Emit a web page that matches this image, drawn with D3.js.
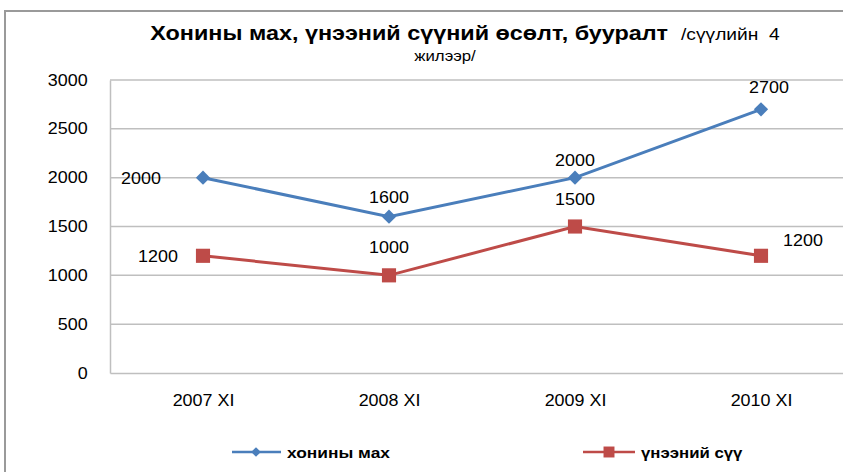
<!DOCTYPE html>
<html><head><meta charset="utf-8">
<script src="https://cdn.jsdelivr.net/npm/d3@7"></script>
<style>
html,body{margin:0;padding:0;background:#fff;overflow:hidden;}
text{font-family:"Liberation Sans",Arial,sans-serif;fill:#000;}
</style></head>
<body>
<svg id="chart" width="843" height="472"></svg>
<script>
const categories = ["2007 XI","2008 XI","2009 XI","2010 XI"];
const mutton = [2000,1600,2000,2700];
const milk = [1200,1000,1500,1200];
const yTicks = [0,500,1000,1500,2000,2500,3000];
const seriesNames = ["хонины мах","үнээний сүү"];
const titleMain = "Хонины мах, үнээний сүүний өсөлт, бууралт";
const titleSub = "/сүүлийн  4";
const titleLine2 = "жилээр/";

const SX = 1.12;
const svg = d3.select("#chart");
const m = {left:110, top:80, right:854, bottom:373};
const blue = "#4A7EBB", red = "#BE4B48", grid = "#BFBFBF";

// frame
svg.append("rect").attr("x",5).attr("y",11).attr("width",900).attr("height",520)
  .attr("fill","#fff").attr("stroke","#9a9a9a").attr("stroke-width",2);

function txt(g, x, y, s, o={}) {
  return g.append("text").attr("transform",`translate(${x},${y}) scale(${o.sx||SX},1)`)
    .attr("text-anchor",o.anchor||"middle").attr("font-size",o.size||16)
    .attr("font-weight",o.weight||"normal").style("white-space","pre").text(s);
}

const x = d3.scalePoint().domain(categories).range([m.left, m.right]).padding(0.5);
const y = d3.scaleLinear().domain([0,3000]).range([m.bottom, m.top]);

// grid
svg.append("g").selectAll("line").data(yTicks.filter(d=>d>0)).join("line")
  .attr("x1",m.left).attr("x2",m.right).attr("y1",d=>y(d)).attr("y2",d=>y(d))
  .attr("stroke",grid).attr("stroke-width",1.5);

// axes
const yAxis = svg.append("g").attr("transform",`translate(${m.left},0)`)
  .call(d3.axisLeft(y).tickValues(yTicks).tickSize(0).tickPadding(20).tickFormat(d3.format("d")));
yAxis.select(".domain").attr("stroke",grid).attr("stroke-width",1.5);
yAxis.selectAll("text").attr("font-size",16).attr("fill","#000")
  .attr("font-family","Liberation Sans, Arial, sans-serif")
  .attr("transform",`scale(${SX},1)`);

const xAxis = svg.append("g").attr("transform",`translate(0,${m.bottom})`)
  .call(d3.axisBottom(x).tickSize(0).tickPadding(22));
xAxis.select(".domain").attr("stroke",grid).attr("stroke-width",1.5);
xAxis.selectAll("text").attr("font-size",16).attr("fill","#000")
  .attr("font-family","Liberation Sans, Arial, sans-serif")
  .attr("transform",`scale(${SX},1)`);

// lines
const line = d3.line().x((d,i)=>x(categories[i])).y(d=>y(d));
svg.append("path").datum(mutton).attr("d",line).attr("fill","none").attr("stroke",blue).attr("stroke-width",3);
svg.append("path").datum(milk).attr("d",line).attr("fill","none").attr("stroke",red).attr("stroke-width",3);

const diamond = d3.symbol().type(d3.symbolDiamond2).size(130);
svg.append("g").selectAll("path").data(mutton).join("path")
  .attr("d",diamond).attr("fill",blue)
  .attr("transform",(d,i)=>`translate(${x(categories[i])},${y(d)})`);
const square = d3.symbol().type(d3.symbolSquare).size(200);
svg.append("g").selectAll("path").data(milk).join("path")
  .attr("d",square).attr("fill",red)
  .attr("transform",(d,i)=>`translate(${x(categories[i])},${y(d)})`);

// data labels
const lblM = [[-62,6],[0,-14],[0,-12],[8,-16]];
const lblR = [[-45,6],[0,-22],[0,-22],[42,-10]];
const lg = svg.append("g");
mutton.forEach((d,i)=>txt(lg, x(categories[i])+lblM[i][0], y(d)+lblM[i][1], d));
milk.forEach((d,i)=>txt(lg, x(categories[i])+lblR[i][0], y(d)+lblR[i][1], d));

// title
const tg = svg.append("text").attr("transform",`translate(465,40) scale(1.2,1)`)
  .attr("text-anchor","middle").style("white-space","pre");
tg.append("tspan").attr("font-size",19.5).attr("font-weight","bold").text(titleMain + "  ");
tg.append("tspan").attr("font-size",16).text(titleSub);
txt(svg, 445, 61, titleLine2, {size:15});

// legend
const leg = svg.append("g");
leg.append("line").attr("x1",232).attr("x2",281).attr("y1",452).attr("y2",452).attr("stroke",blue).attr("stroke-width",2.5);
leg.append("path").attr("d",d3.symbol().type(d3.symbolDiamond2).size(60)).attr("fill",blue).attr("transform","translate(256,452)");
txt(leg, 287, 458, seriesNames[0], {anchor:"start", size:15.5, weight:"bold"});
leg.append("line").attr("x1",583).attr("x2",635).attr("y1",452).attr("y2",452).attr("stroke",red).attr("stroke-width",2.5);
leg.append("path").attr("d",d3.symbol().type(d3.symbolSquare).size(120)).attr("fill",red).attr("transform","translate(609,452)");
txt(leg, 641, 458, seriesNames[1], {anchor:"start", size:15, weight:"bold"});
</script>
</body></html>
